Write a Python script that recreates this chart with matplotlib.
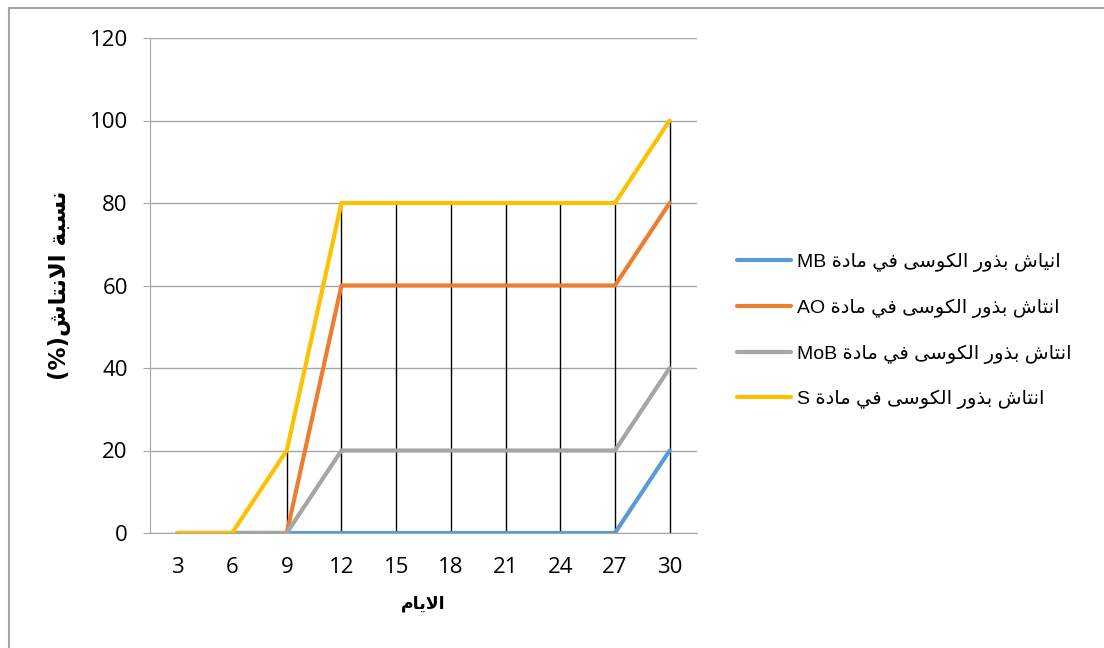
import matplotlib
matplotlib.use('Agg')
import matplotlib.pyplot as plt
import numpy as np
from matplotlib.lines import Line2D

# الايام
days = [3, 6, 9, 12, 15, 18, 21, 24, 27, 30]
mb = [0, 0, 0, 0, 0, 0, 0, 0, 0, 20]
ao = [0, 0, 0, 60, 60, 60, 60, 60, 60, 80]
mob = [0, 0, 0, 20, 20, 20, 20, 20, 20, 40]
s = [0, 0, 20, 80, 80, 80, 80, 80, 80, 100]

names = ['انياش بذور الكوسى في مادة', 'انتاش بذور الكوسى في مادة',
         'انتاش بذور الكوسى في مادة', 'انتاش بذور الكوسى في مادة']
codes = ['MB', 'AO', 'MoB', 'S']
colors = ['#5B9BD5', '#ED7D31', '#A5A5A5', '#FFC000']

# arabic letter forms: isolated, final, initial, medial
FORMS = {
    'ا': (0xFE8D, 0xFE8E, None, None),
    'ب': (0xFE8F, 0xFE90, 0xFE91, 0xFE92),
    'ة': (0xFE93, 0xFE94, None, None),
    'ت': (0xFE95, 0xFE96, 0xFE97, 0xFE98),
    'د': (0xFEA9, 0xFEAA, None, None),
    'ذ': (0xFEAB, 0xFEAC, None, None),
    'ر': (0xFEAD, 0xFEAE, None, None),
    'س': (0xFEB1, 0xFEB2, 0xFEB3, 0xFEB4),
    'ش': (0xFEB5, 0xFEB6, 0xFEB7, 0xFEB8),
    'ف': (0xFED1, 0xFED2, 0xFED3, 0xFED4),
    'ك': (0xFED9, 0xFEDA, 0xFEDB, 0xFEDC),
    'ل': (0xFEDD, 0xFEDE, 0xFEDF, 0xFEE0),
    'م': (0xFEE1, 0xFEE2, 0xFEE3, 0xFEE4),
    'ن': (0xFEE5, 0xFEE6, 0xFEE7, 0xFEE8),
    'و': (0xFEED, 0xFEEE, None, None),
    'ى': (0xFEEF, 0xFEF0, None, None),
    'ي': (0xFEF1, 0xFEF2, 0xFEF3, 0xFEF4),
    'لا': (0xFEFB, 0xFEFC, None, None),
}


def ar(text):
    # join the letters and flip them for left-to-right drawing
    tokens = []
    i = 0
    while i < len(text):
        if text[i] == 'ل' and i + 1 < len(text) and text[i + 1] == 'ا':
            tokens.append('لا')
            i += 2
        else:
            tokens.append(text[i])
            i += 1
    out = []
    for k, t in enumerate(tokens):
        if t not in FORMS:
            out.append(t)
            continue
        iso, fin, ini, med = FORMS[t]
        prev = tokens[k - 1] if k > 0 else None
        nxt = tokens[k + 1] if k + 1 < len(tokens) else None
        jp = prev in FORMS and FORMS[prev][2] is not None
        jn = ini is not None and nxt in FORMS
        if jp and jn:
            c = med
        elif jp:
            c = fin
        elif jn:
            c = ini
        else:
            c = iso
        out.append(chr(c))
    return ''.join(reversed(out))


fig = plt.figure(figsize=(11.04, 6.48), dpi=100)
ax = fig.add_axes([150 / 1104, 1 - 533 / 648, 547 / 1104, 495 / 648])

x = np.arange(len(days))
top = np.max([mb, ao, mob, s], axis=0)
ax.vlines(x, 0, top, color='black', lw=1, zorder=2)

for vals, name, code, col in zip([mb, ao, mob, s], names, codes, colors):
    ax.plot(x, vals, color=col, lw=3, solid_capstyle='round',
            label=code + ' ' + ar(name), zorder=3)

ax.set_xlim(-0.5, len(days) - 0.5)
ax.set_ylim(0, 120)
ax.set_yticks(np.arange(0, 121, 20))
ax.set_xticks(x)
ax.set_xticklabels([str(d) for d in days])
ax.grid(axis='y', color='#A6A6A6', lw=1)
ax.set_axisbelow(True)
for sp in ['top', 'right']:
    ax.spines[sp].set_visible(False)
for sp in ['left', 'bottom']:
    ax.spines[sp].set_color('#A6A6A6')
ax.tick_params(axis='y', length=5, color='#A6A6A6', pad=11, labelsize=16)
ax.tick_params(axis='x', length=0, pad=17, labelsize=16)
for lab in ax.get_xticklabels() + ax.get_yticklabels():
    lab.set_family(['Open Sans', 'DejaVu Sans'])

ax.set_xlabel(ar('الايام'), fontsize=12.5, fontweight='bold',
              family=['DejaVu Sans'], labelpad=12)
ax.set_ylabel('(%)' + ar('نسبة الانتاش'), fontsize=16.5, fontweight='bold',
              family=['DejaVu Sans'], labelpad=13)

leg = ax.legend(loc='center left', bbox_to_anchor=(737 / 1104, 1 - 331 / 648),
                bbox_transform=fig.transFigure, frameon=False, borderpad=0,
                borderaxespad=0, handlelength=2.8, handletextpad=0.3,
                labelspacing=1.35, prop={'family': ['Liberation Sans', 'DejaVu Sans'], 'size': 14})

# chart frame
fig.add_artist(Line2D([9 / 1104, 1], [1 - 8 / 648, 1 - 8 / 648], color='#A6A6A6', lw=1.5))
fig.add_artist(Line2D([9 / 1104, 9 / 1104], [0, 1 - 8 / 648], color='#A6A6A6', lw=1.5))

fig.savefig('out.png', dpi=100)
